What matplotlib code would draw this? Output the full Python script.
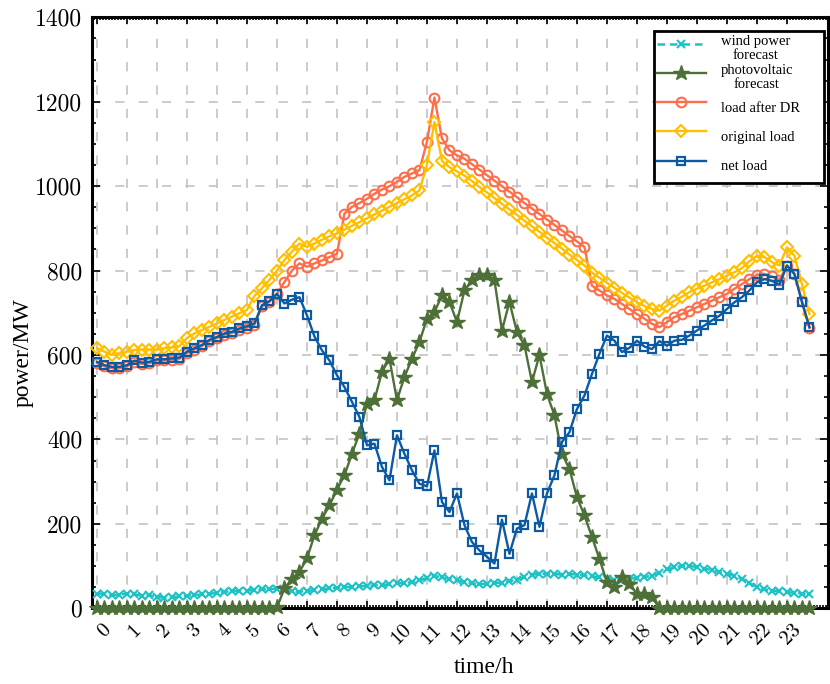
import numpy as np
import matplotlib
matplotlib.use('Agg')
import matplotlib.pyplot as plt
from matplotlib.ticker import MultipleLocator
import matplotlib.transforms as mtransforms

plt.rcParams['axes.formatter.use_mathtext'] = True

# ---------------- data (15-min resolution, 96 points) ----------------
time_h = np.arange(96) * 0.25
hour_ticks = list(range(24))
hour_labels = [str(h) for h in hour_ticks]
y_ticks = list(range(0, 1401, 200))

wind = [35, 34, 31, 32, 35, 33, 30, 31, 27, 25, 26, 28,
        30, 31, 33, 34, 37, 39, 40, 42, 42, 43, 45, 46,
        46, 44, 40, 39, 41, 43, 45, 47, 49, 50, 51, 52,
        53, 54, 55, 57, 59, 60, 62, 66, 72, 76, 74, 70,
        66, 62, 59, 57, 58, 60, 61, 64, 68, 74, 79, 82,
        82, 81, 80, 81, 80, 78, 76, 73, 70, 68, 67, 70,
        72, 74, 77, 84, 92, 97, 100, 100, 98, 94, 90, 86,
        82, 77, 70, 60, 50, 45, 42, 40, 38, 37, 35, 33]

pv = [0] * 24 + [2,
      47, 70, 86, 118, 173, 212, 244, 281, 315, 366, 414, 485,
      493, 560, 591, 493, 548, 591, 631, 686, 702, 741, 726, 678,
      753, 777, 789, 789, 777, 658, 726, 654, 623, 536, 600, 508,
      457, 366, 330, 263, 220, 169, 117, 62, 50, 74, 58, 34,
      34, 27] + [0] * 21

load_dr = [581, 573, 569, 569, 573, 584, 579, 581, 587, 587, 589, 591,
           605, 613, 621, 633, 640, 648, 652, 660, 665, 672, 715, 726,
           745, 773, 800, 817, 809, 817, 824, 832, 840, 935, 951, 960,
           970, 982, 992, 1000, 1010, 1022, 1030, 1038, 1105, 1210, 1113, 1085,
           1073, 1065, 1052, 1039, 1026, 1013, 1000, 987, 974, 960, 947, 934,
           921, 908, 895, 882, 869, 856, 764, 753, 741, 733, 721, 709,
           697, 686, 674, 666, 678, 690, 697, 705, 713, 721, 729, 737,
           745, 757, 768, 780, 790, 792, 786, 778, 812, 792, 729, 664]

load_orig = [616, 608, 600, 604, 608, 612, 613, 613, 613, 616, 618, 621,
             640, 651, 659, 667, 675, 683, 691, 699, 707, 740, 758, 778,
             800, 825, 845, 864, 856, 864, 873, 881, 888, 897, 906, 915,
             924, 933, 942, 951, 960, 969, 978, 990, 1050, 1152, 1060, 1045,
             1035, 1025, 1012, 998, 985, 972, 958, 945, 932, 918, 905, 892,
             878, 865, 852, 838, 825, 812, 795, 783, 771, 759, 747, 736,
             725, 716, 709, 705, 717, 729, 738, 749, 757, 764, 772, 780,
             788, 796, 806, 822, 835, 832, 820, 812, 855, 835, 768, 697]

net_load = [584, 576, 572, 572, 576, 587, 582, 584, 590, 590, 592, 594,
            608, 616, 624, 636, 643, 651, 655, 663, 668, 675, 718, 728,
            745, 722, 731, 737, 694, 644, 611, 587, 552, 524, 489, 453,
            386, 390, 335, 303, 410, 366, 327, 295, 289, 374, 252, 228,
            272, 197, 157, 137, 122, 106, 210, 129, 189, 197, 272, 193,
            272, 315, 394, 417, 472, 504, 555, 603, 646, 634, 607, 617,
            634, 620, 614, 633, 622, 634, 636, 646, 658, 670, 682, 693,
            709, 725, 737, 753, 772, 780, 776, 767, 812, 792, 725, 666]

labels = ['wind power\nforecast', 'photovoltaic\nforecast', 'load after DR',
          'original load', 'net load']

# ---------------- figure ----------------
fig = plt.figure(figsize=(8.3, 6.84), dpi=100)
ax = fig.add_axes([0.1108, 0.1107, 0.8873, 0.8640])

c_wind, c_pv, c_dr, c_orig, c_net = '#1CC2C4', '#4D7038', '#FF6E4A', '#FFBF00', '#0B5AA2'

common = dict(clip_on=False, zorder=3)
ax.plot(time_h, wind, color=c_wind, linestyle=(0, (3, 2)), lw=1.8,
        marker='x', ms=5.5, mew=1.5, label=labels[0], **common)
ax.plot(time_h, pv, color=c_pv, linestyle='-', lw=1.7,
        marker='*', ms=11.5, label=labels[1], **common)
ax.plot(time_h, load_dr, color=c_dr, linestyle='-', lw=1.7,
        marker='o', ms=7, mfc='none', mew=1.5, label=labels[2], **common)
ax.plot(time_h, load_orig, color=c_orig, linestyle='-', lw=1.7,
        marker='D', ms=6, mfc='none', mew=1.5, label=labels[3], **common)
ax.plot(time_h, net_load, color=c_net, linestyle='-', lw=1.7,
        marker='s', ms=6, mfc='none', mew=1.6, label=labels[4], **common)

ax.set_xlim(-0.1667, 24.383)
ax.set_ylim(0, 1400)

ax.set_xticks(hour_ticks)
ax.set_xticklabels(hour_labels)
ax.set_yticks(y_ticks)
ax.set_yticklabels([str(v) for v in y_ticks])
ax.xaxis.set_minor_locator(MultipleLocator(0.1))
ax.yaxis.set_minor_locator(MultipleLocator(50))

ax.tick_params(axis='both', which='both', direction='in', top=True, right=True,
               width=1.2, colors='black')
ax.tick_params(axis='y', which='major', length=5.5, pad=7, labelsize=17)
ax.tick_params(axis='y', which='minor', length=3)
ax.tick_params(axis='x', which='major', length=5, pad=9, labelsize=15)
ax.tick_params(axis='x', which='minor', length=2.2)

for lab in ax.get_yticklabels():
    lab.set_fontfamily('cmr10')
offset = mtransforms.ScaledTranslation(5 / 100, 0, fig.dpi_scale_trans)
for lab in ax.get_xticklabels():
    lab.set_fontfamily('cmr10')
    lab.set_rotation(45)
    lab.set_rotation_mode('anchor')
    lab.set_ha('right')
    lab.set_va('top')
    lab.set_transform(lab.get_transform() + offset)

for sp in ax.spines.values():
    sp.set_linewidth(2.2)
    sp.set_color('black')

ax.set_axisbelow(True)
ax.grid(True, which='major', color='#c2c2c2', linestyle=(0, (5.5, 8.5)), linewidth=1.2)

ax.set_xlabel('time/h', fontsize=17, family='Liberation Serif')
ax.xaxis.set_label_coords(0.532, -0.083)
ax.set_ylabel('power/MW', fontsize=17, family='Liberation Serif')
ax.yaxis.set_label_coords(-0.079, 0.433)

leg = ax.legend(loc='upper right',
                bbox_to_anchor=(0.7626, 0.7225, 0.9946 - 0.7626, 0.976 - 0.7225),
                mode='expand', borderaxespad=0.0,
                prop={'family': 'Liberation Serif', 'size': 10.5},
                handlelength=3.4, handleheight=2.7, labelspacing=0.0,
                borderpad=0.2, handletextpad=1.0, numpoints=1,
                frameon=True, fancybox=False, framealpha=1.0, edgecolor='black')
leg.get_frame().set_linewidth(2.0)
for t in leg.get_texts():
    t.set_multialignment('center')
    t.set_linespacing(1.05)

fig.savefig('out.png', dpi=100)
